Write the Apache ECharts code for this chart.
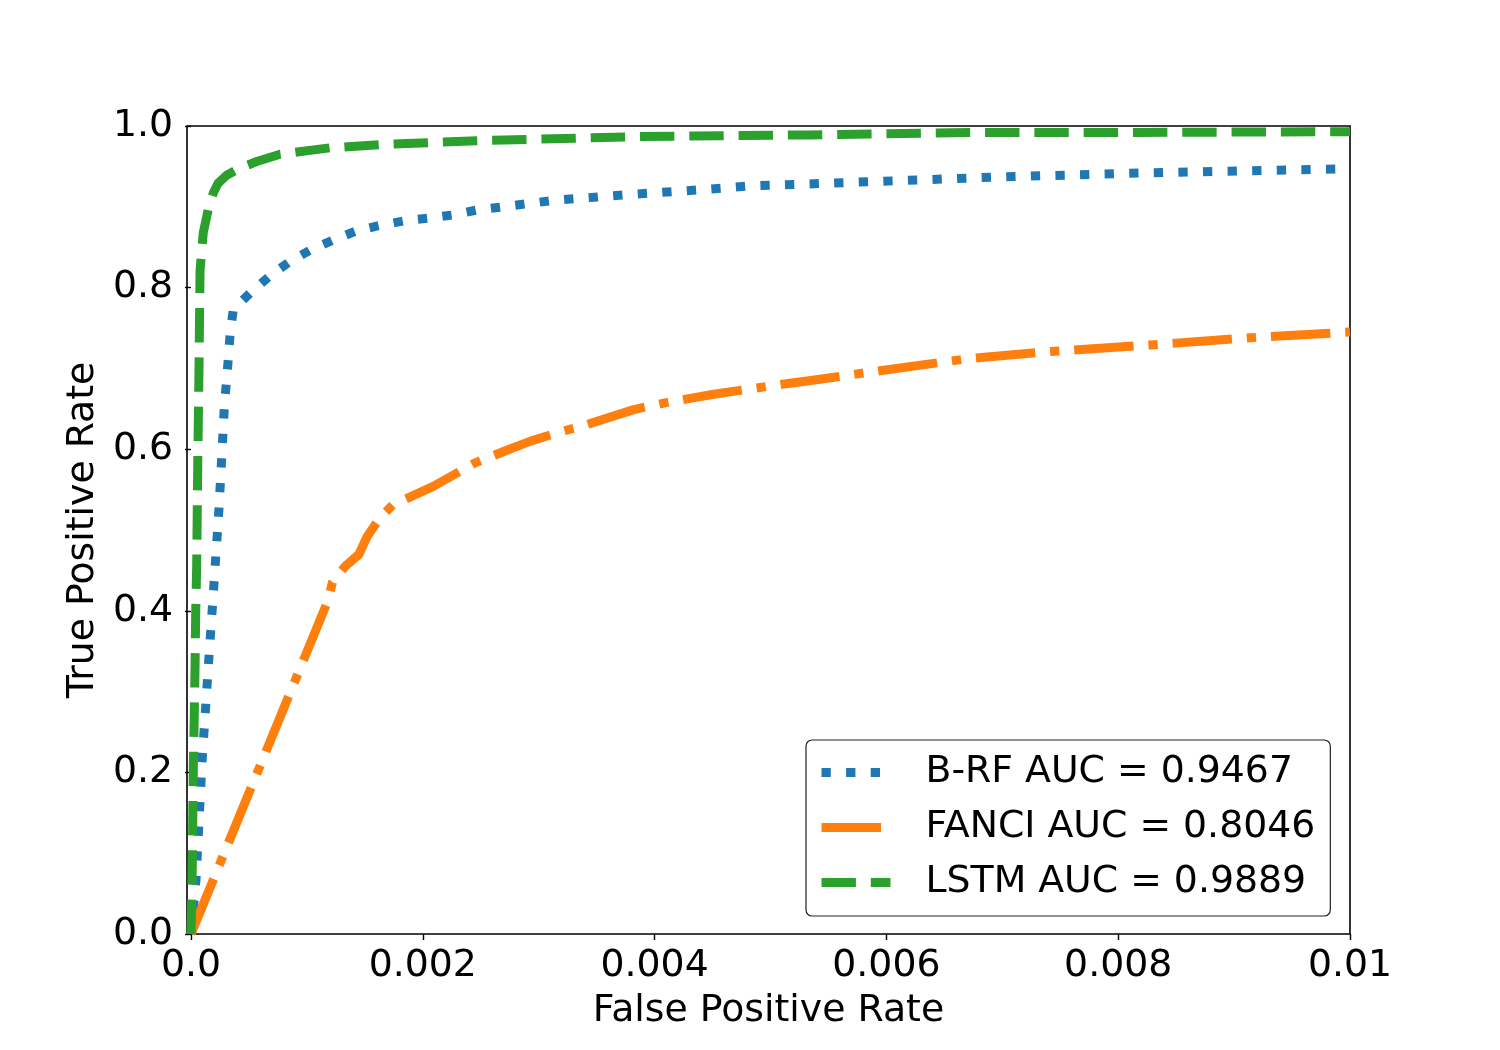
<!DOCTYPE html>
<html>
<head>
<meta charset="utf-8">
<title>ROC</title>
<script src="https://cdn.jsdelivr.net/npm/echarts@6.0.0/dist/echarts.min.js"></script>
<style>
	html, body { margin: 0; padding: 0; background: #fff; }
	#roc-chart { width: 1500px; height: 1050px; }
</style>
</head>
<body>
<div id="roc-chart"></div>
<script>
// values
var brfFpr = [0, 0.000043, 0.000098, 0.000155, 0.000199, 0.000242, 0.000265, 0.000287, 0.000322, 0.000337, 0.000365,
	0.000509, 0.000676, 0.00084, 0.001036, 0.001228, 0.001424, 0.001631, 0.001856, 0.002048, 0.002264, 0.002466,
	0.002696, 0.003127, 0.003763, 0.004394, 0.004825, 0.00528, 0.006983, 0.00825, 0.01];
var brfTpr = [0, 0.067, 0.220, 0.343, 0.435, 0.528, 0.590, 0.651, 0.712, 0.742, 0.773,
	0.793, 0.814, 0.831, 0.847, 0.859, 0.870, 0.877, 0.883, 0.886, 0.890, 0.896,
	0.900, 0.908, 0.915, 0.921, 0.926, 0.928, 0.937, 0.942, 0.947];

var fanciFpr = [0, 0.00118, 0.00122, 0.00133, 0.00145, 0.00152, 0.00163, 0.00174, 0.00209, 0.00245, 0.00273,
	0.00293, 0.00320, 0.00336, 0.00382, 0.00411, 0.00451, 0.00508, 0.00530, 0.00584, 0.00670, 0.00742,
	0.00828, 0.00914, 0.01];
var fanciTpr = [0, 0.412, 0.435, 0.455, 0.470, 0.492, 0.515, 0.531, 0.554, 0.583, 0.599,
	0.610, 0.622, 0.628, 0.649, 0.658, 0.668, 0.680, 0.684, 0.695, 0.712, 0.721,
	0.729, 0.738, 0.745];

var lstmFpr = [0, 0.000011, 0.00002, 0.000028, 0.000035, 0.00004, 0.000049, 0.000058, 0.000069, 0.000078,
	0.000106, 0.000149, 0.000192, 0.000233, 0.000308, 0.000423, 0.000567, 0.000768, 0.0012, 0.00163,
	0.0025, 0.00388, 0.00534, 0.00675, 0.00819, 0.01];
var lstmTpr = [0, 0.083, 0.207, 0.269, 0.331, 0.393, 0.455, 0.579, 0.698, 0.821,
	0.868, 0.897, 0.917, 0.929, 0.939, 0.948, 0.956, 0.965, 0.973, 0.977,
	0.982, 0.987, 0.989, 0.992, 0.992, 0.993];

var seriesNames = ["B-RF AUC = 0.9467", "FANCI AUC = 0.8046", "LSTM AUC = 0.9889"];
var xTickValues = [0, 0.002, 0.004, 0.006, 0.008, 0.01];
var xTickLabels = ["0.0", "0.002", "0.004", "0.006", "0.008", "0.01"];
var yTickLabels = ["0.0", "0.2", "0.4", "0.6", "0.8", "1.0"];

window.onload = function () {

	var font = "DejaVu Sans";
	var fsize = 37.8;

	function pairs(xs, ys) {
		var out = [];
		for (var i = 0; i < xs.length; i++) {
			out.push([xs[i], ys[i]]);
		}
		return out;
	}

	var chart = echarts.init(document.getElementById('roc-chart'));

	var option = {
		animation: false,
		backgroundColor: '#ffffff',
		grid: {
			left: 187,
			right: 150,
			top: 126,
			bottom: 116,
			show: true,
			borderColor: '#000',
			borderWidth: 1.6,
			backgroundColor: 'transparent'
		},
		legend: {
			orient: 'vertical',
			left: 806,
			top: 740,
			padding: [12, 15, 13, 11],
			itemGap: 14,
			itemWidth: 69,
			itemHeight: 14,
			borderColor: '#222',
			borderWidth: 1.2,
			borderRadius: 6,
			backgroundColor: '#fff',
			// hide the marker that line series put in the middle of the legend icon
			itemStyle: { opacity: 0, borderWidth: 0 },
			lineStyle: { width: 9, cap: 'butt', opacity: 1 },
			textStyle: {
				fontFamily: font,
				fontSize: fsize,
				color: '#000',
				lineHeight: 41,
				padding: [0, 0, 0, 30]
			},
			data: seriesNames
		},
		xAxis: {
			type: 'value',
			min: -0.0000345,
			max: 0.01,
			name: 'False Positive Rate',
			nameLocation: 'middle',
			nameGap: 58,
			nameTextStyle: { fontFamily: font, fontSize: fsize, color: '#000' },
			axisLine: { show: false },
			splitLine: { show: false },
			axisTick: {
				show: true,
				length: 6,
				customValues: xTickValues,
				lineStyle: { color: '#000', width: 1.4 }
			},
			axisLabel: {
				customValues: xTickValues,
				margin: 13,
				fontFamily: font,
				fontSize: fsize,
				color: '#000',
				formatter: function (v) {
					for (var i = 0; i < xTickValues.length; i++) {
						if (Math.abs(xTickValues[i] - v) < 1e-9) {
							return xTickLabels[i];
						}
					}
					return '';
				}
			}
		},
		yAxis: {
			type: 'value',
			min: 0,
			max: 1,
			interval: 0.2,
			name: 'True Positive Rate',
			nameLocation: 'middle',
			nameGap: 78,
			nameTextStyle: { fontFamily: font, fontSize: fsize, color: '#000' },
			axisLine: { show: false },
			splitLine: { show: false },
			axisTick: {
				show: true,
				length: 6,
				lineStyle: { color: '#000', width: 1.4 }
			},
			axisLabel: {
				margin: 14,
				fontFamily: font,
				fontSize: fsize,
				color: '#000',
				formatter: function (v) {
					return yTickLabels[Math.round(v / 0.2)];
				}
			}
		},
		series: [
			{
				name: seriesNames[0],
				type: 'line',
				symbol: 'none',
				showSymbol: false,
				color: '#1f77b4',
				lineStyle: { color: '#1f77b4', width: 9, type: [9.3, 15.3], cap: 'butt', join: 'round' },
				data: pairs(brfFpr, brfTpr)
			},
			{
				name: seriesNames[1],
				type: 'line',
				symbol: 'none',
				showSymbol: false,
				color: '#ff7f0e',
				lineStyle: { color: '#ff7f0e', width: 9, type: [59.5, 14.9, 9.3, 14.9], cap: 'butt', join: 'round' },
				data: pairs(fanciFpr, fanciTpr)
			},
			{
				name: seriesNames[2],
				type: 'line',
				symbol: 'none',
				showSymbol: false,
				color: '#2ca02c',
				lineStyle: { color: '#2ca02c', width: 9, type: [34.4, 14.9], cap: 'butt', join: 'round' },
				data: pairs(lstmFpr, lstmTpr)
			}
		]
	};

	chart.setOption(option);
}
</script>
</body>
</html>
